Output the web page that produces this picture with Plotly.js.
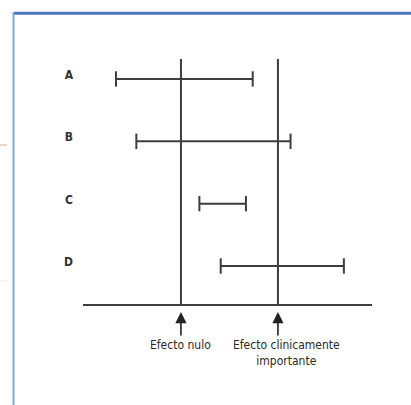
<!DOCTYPE html>
<html>
<head>
<meta charset="utf-8">
<script src="https://cdn.plot.ly/plotly-3.0.1.min.js"></script>
<style>html,body{margin:0;padding:0;background:#fff;}#chart{width:411px;height:405px;}</style>
</head>
<body>
<div id="chart"></div>
<script>
// Data: confidence intervals in units where 0 = null effect, 1 = clinically important effect
const categories = ["A", "B", "C", "D"];
const rowPos = [4, 3, 2, 1];
const lower = [-0.67, -0.46, 0.19, 0.41];
const upper = [0.74, 1.13, 0.67, 1.68];
const refValues = [0, 1];
const refLabels = ["Efecto nulo", "Efecto clinicamente<br>importante"];

const lineColor = "#3d3d3d";
const font = "'Liberation Sans Narrow', 'DejaVu Sans Condensed', 'Arial Narrow', sans-serif";

const traces = categories.map((c, i) => ({
  type: "scatter",
  mode: "lines+markers",
  x: [lower[i], upper[i]],
  y: [rowPos[i], rowPos[i]],
  line: {color: lineColor, width: 2},
  marker: {symbol: "line-ns", size: 11, line: {color: lineColor, width: 2}},
  hoverinfo: "skip",
  showlegend: false,
  cliponaxis: false
}));

const shapes = refValues.map(v => ({
  type: "line", xref: "x", yref: "paper",
  x0: v, x1: v, y0: 0, y1: 1,
  line: {color: lineColor, width: 2}
}));
// page frame (blue border) and small marks
shapes.push({type: "line", xref: "paper", yref: "paper", x0: -0.2405, x1: 1.2, y0: 1.187, y1: 1.187, line: {color: "#4a76be", width: 3}});
shapes.push({type: "line", xref: "paper", yref: "paper", x0: -0.2405, x1: -0.2405, y0: 1.19, y1: -0.45, line: {color: "#7fa6da", width: 2}});
shapes.push({type: "line", xref: "paper", yref: "paper", x0: -0.29, x1: -0.263, y0: (304-145)/245, y1: (304-145)/245, line: {color: "#e8d6c0", width: 2}});
shapes.push({type: "line", xref: "paper", yref: "paper", x0: -0.29, x1: -0.263, y0: (304-281)/245, y1: (304-281)/245, line: {color: "#efe6da", width: 1}});

const annotations = [];
refValues.forEach((v, i) => {
  annotations.push({
    x: v, y: 0, xref: "x", yref: "paper",
    text: "", showarrow: true, arrowhead: 2, arrowsize: 1.4, arrowwidth: 1.6,
    arrowcolor: "#222", ax: 0, ay: 33, standoff: 8
  });
});
annotations.push({x: 0, y: 0, xref: "x", yref: "paper", text: refLabels[0], showarrow: false,
  xanchor: "center", yanchor: "top", yshift: -32, font: {family: font, size: 12, color: "#2a2a2a"}});
annotations.push({x: 1.09, y: 0, xref: "x", yref: "paper", text: refLabels[1], showarrow: false,
  xanchor: "center", yanchor: "top", yshift: -32, font: {family: font, size: 12, color: "#2a2a2a"}});

const layout = {
  width: 411, height: 405,
  margin: {l: 83, r: 39, t: 59, b: 101, pad: 0},
  paper_bgcolor: "#ffffff", plot_bgcolor: "#ffffff",
  xaxis: {range: [-1.01, 1.97], showline: true, linecolor: lineColor, linewidth: 2,
    showticklabels: false, ticks: "", showgrid: false, zeroline: false, fixedrange: true},
  yaxis: {range: [0.39, 4.32], tickvals: rowPos, ticktext: categories, ticks: "",
    showline: false, showgrid: false, zeroline: false, ticklabelshift: -4, ticklabelstandoff: 9,
    tickfont: {family: font, size: 12, color: "#333", weight: "bold"}, fixedrange: true},
  shapes: shapes,
  annotations: annotations,
  showlegend: false
};

Plotly.newPlot("chart", traces, layout, {displayModeBar: false, staticPlot: true});
</script>
</body>
</html>
